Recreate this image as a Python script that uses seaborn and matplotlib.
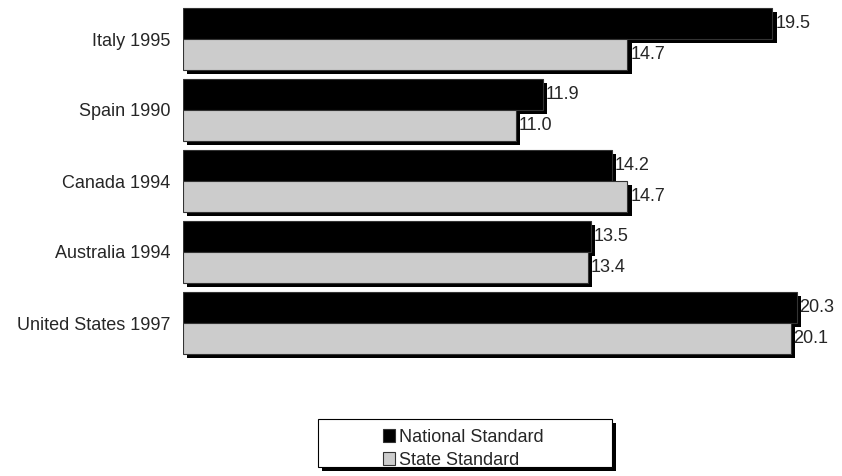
import matplotlib
matplotlib.use("Agg")
import matplotlib.pyplot as plt
import matplotlib.patheffects as pe
from matplotlib.patches import Patch, Rectangle
import pandas as pd
import seaborn as sns

countries = ["Italy 1995", "Spain 1990", "Canada 1994", "Australia 1994", "United States 1997"]
national = [19.5, 11.9, 14.2, 13.5, 20.3]
state = [14.7, 11.0, 14.7, 13.4, 20.1]
series = ["National Standard", "State Standard"]
colors = ["#000000", "#cccccc"]

df = pd.DataFrame({
    "country": countries * 2,
    "value": national + state,
    "standard": [series[0]] * len(countries) + [series[1]] * len(countries),
})

sns.set_style("white")
plt.rcParams["font.family"] = ["Liberation Sans", "DejaVu Sans"]
FS = 13

W, H = 842, 476
fig = plt.figure(figsize=(W / 100, H / 100), dpi=100)
ax = fig.add_axes([183 / W, 1 - 358.5 / H, 1 - 183 / W, 355 / H])

sns.barplot(data=df, y="country", x="value", hue="standard", order=countries,
            hue_order=series, palette=colors, orient="h", width=0.87, gap=0,
            edgecolor="#333333", linewidth=0.8, legend=False, ax=ax)

shadow = [pe.SimplePatchShadow(offset=(3, -3), shadow_rgbFace="black", alpha=1.0), pe.Normal()]
for bar in ax.patches:
    bar.set_path_effects(shadow)

for cont in ax.containers:
    ax.bar_label(cont, fmt="%.1f", padding=2, fontsize=FS)

ax.set_xlim(0, 21.8)
ax.set_ylim(4.5, -0.5)
ax.set_xlabel("")
ax.set_ylabel("")
ax.set_xticks([])
ax.tick_params(axis="y", length=0, pad=9, labelsize=FS)
for s in ax.spines.values():
    s.set_visible(False)

# legend box with shadow
box = Rectangle((318 / W, 1 - 467 / H), 294 / W, 48 / H, transform=fig.transFigure,
                facecolor="white", edgecolor="black", linewidth=0.8,
                path_effects=[pe.SimplePatchShadow(offset=(3, -3), shadow_rgbFace="black", alpha=1.0), pe.Normal()])
fig.patches.append(box)
handles = [Patch(facecolor=c, edgecolor="#333333", linewidth=0.8) for c in colors]
fig.legend(handles, series, loc="upper left", bbox_to_anchor=(370 / W, 1 - 416 / H),
           frameon=False, fontsize=FS, handlelength=0.7, handleheight=0.7,
           handletextpad=0.2, labelspacing=0.35, borderpad=0.2)

fig.savefig("out.png", dpi=100)
